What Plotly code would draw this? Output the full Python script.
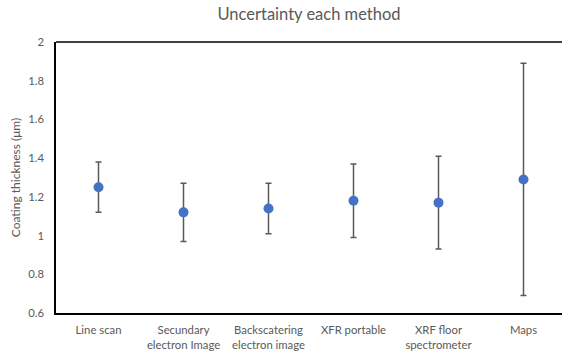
import plotly.graph_objects as go

categories = ["Line scan", "Secundary<br>electron Image", "Backscatering<br>electron image",
              "XFR portable", "XRF floor<br>spectrometer", "Maps"]
means = [1.25, 1.12, 1.14, 1.18, 1.17, 1.29]
errors = [0.13, 0.15, 0.13, 0.19, 0.24, 0.60]
y_tickvals = [0.6, 0.8, 1.0, 1.2, 1.4, 1.6, 1.8, 2.0]
y_ticktext = ["0.6", "0.8", "1", "1.2", "1.4", "1.6", "1.8", "2"]

xs = list(range(len(categories)))
font_family = "Lato, 'Open Sans', sans-serif"
grey = "#595959"

fig = go.Figure()
fig.add_trace(go.Scatter(
    x=xs, y=means, mode="markers",
    marker=dict(color="#4472C4", size=10),
    error_y=dict(type="data", array=errors, visible=True, color=grey, thickness=1.5, width=3),
    showlegend=False,
))

fig.update_layout(
    width=562, height=356,
    margin=dict(l=56, r=0, t=42, b=43),
    paper_bgcolor="white", plot_bgcolor="white",
    title=dict(text="Uncertainty each method", x=0.5, xref="paper", xanchor="center",
               y=1 - 14 / 356, yanchor="middle",
               font=dict(family=font_family, size=16.5, color=grey)),
    font=dict(family=font_family, color=grey, size=11),
    xaxis=dict(
        tickvals=xs, ticktext=categories, range=[-0.5, 5.453],
        showgrid=False, zeroline=False, showline=True, linecolor="black", linewidth=1.5,
        ticks="", ticklabelstandoff=6, tickfont=dict(size=11.3, color=grey),
    ),
    yaxis=dict(
        range=[0.6, 2.0], tickvals=y_tickvals, ticktext=y_ticktext,
        showgrid=False, zeroline=False, showline=True, linecolor="black", linewidth=1.5,
        ticks="", ticklabelstandoff=8, tickfont=dict(size=11.3, color=grey),
        title=dict(text="Coating thickness (μm)", standoff=5, font=dict(size=12, color=grey)),
    ),
    shapes=[dict(type="line", xref="paper", yref="paper", x0=0, x1=1, y0=1, y1=1,
                 line=dict(color="black", width=1.5))],
)

fig.write_html("out.html")
